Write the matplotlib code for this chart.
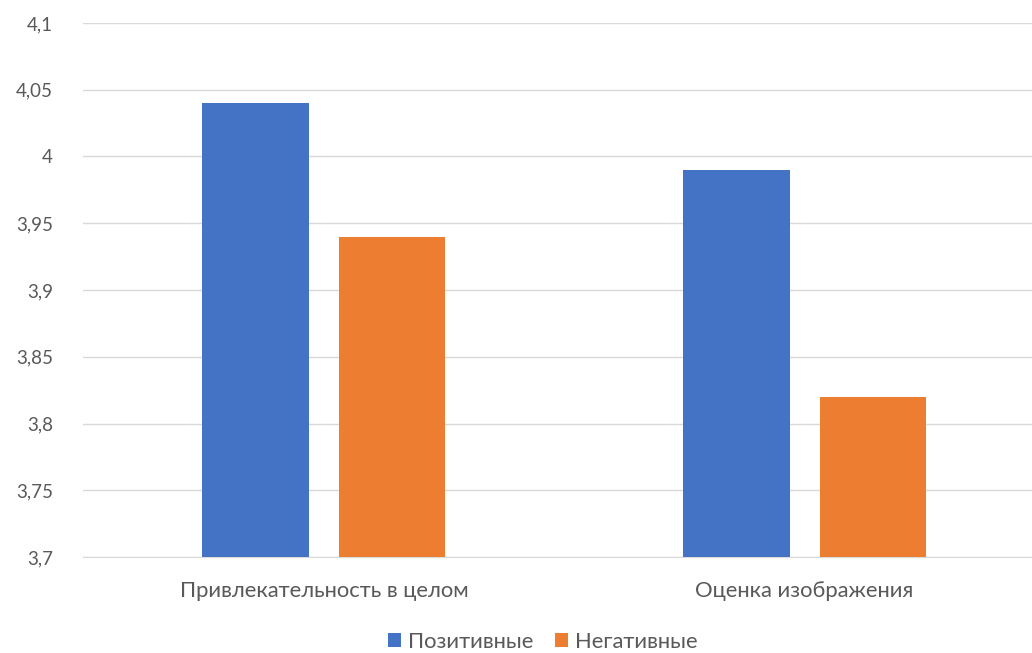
import matplotlib.pyplot as plt
import numpy as np

categories = ['Привлекательность в целом', 'Оценка изображения']
positive = [4.04, 3.99]
negative = [3.94, 3.82]
series_names = ['Позитивные', 'Негативные']
yticks = [3.7, 3.75, 3.8, 3.85, 3.9, 3.95, 4.0, 4.05, 4.1]
ytick_labels = ['3,7', '3,75', '3,8', '3,85', '3,9', '3,95', '4', '4,05', '4,1']

plt.rcParams['font.family'] = ['Lato', 'DejaVu Sans']

fig = plt.figure(figsize=(10.32, 6.53), dpi=100)
ax = fig.add_axes([0.0809, 0.147, 0.9317, 0.8178])

x = np.arange(len(categories))
w = 0.222
off = 0.142
ax.bar(x - off, positive, w, color='#4472C4', label=series_names[0], zorder=3)
ax.bar(x + off, negative, w, color='#ED7D31', label=series_names[1], zorder=3)

ax.set_ylim(3.7, 4.1)
ax.set_xlim(-0.5, 1.5)
ax.set_yticks(yticks)
ax.set_yticklabels(ytick_labels)
ax.set_xticks(x)
ax.set_xticklabels(categories)
ax.tick_params(axis='both', length=0, colors='#595959')
ax.tick_params(axis='y', labelsize=13.5, pad=22)
ax.tick_params(axis='x', labelsize=15.8, pad=17)
for lbl in ax.get_yticklabels():
    lbl.set_horizontalalignment('right')

ax.yaxis.grid(True, color='#D9D9D9', linewidth=1, zorder=0)
for s in ['top', 'right', 'left']:
    ax.spines[s].set_visible(False)
ax.spines['bottom'].set_color('#D9D9D9')

fig.legend(loc='lower center', bbox_to_anchor=(0.5257, -0.028), ncol=2, frameon=False,
           fontsize=15.8, labelcolor='#595959', handlelength=0.6, handleheight=0.6,
           columnspacing=1.0, handletextpad=0.3)

fig.savefig('out.png', dpi=100)
